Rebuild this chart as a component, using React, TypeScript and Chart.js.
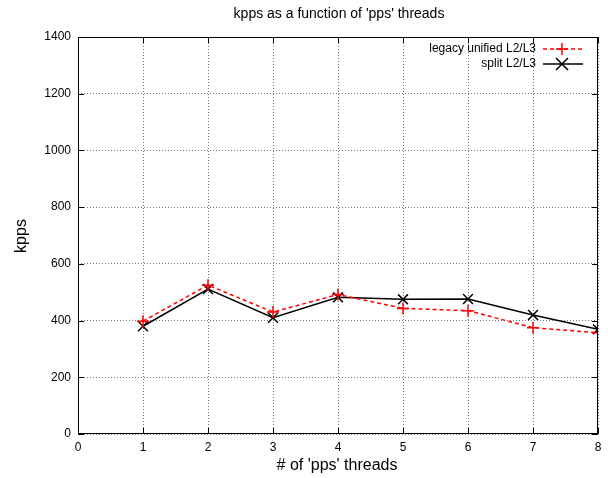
import React, { useEffect, useRef } from "react";
import { Chart, registerables } from "chart.js";

Chart.register(...registerables);

const threads = [1, 2, 3, 4, 5, 6, 7, 8];
const legacyUnified = [398, 525, 430, 492, 443, 435, 375, 357];
const splitL2L3 = [380, 511, 410, 482, 475, 476, 420, 369];
const seriesNames = ["legacy unified L2/L3", "split L2/L3"];
const titleText = "kpps as a function of 'pps' threads";
const xTitle = "# of 'pps' threads";
const yTitle = "kpps";

const FONT = "'Liberation Sans', Arial, Helvetica, sans-serif";

const decorPlugin = {
  id: "decor",
  afterDraw(chart: any) {
    const ctx = chart.ctx;
    const a = chart.chartArea;
    ctx.save();
    ctx.strokeStyle = "#000";
    ctx.lineWidth = 1;
    ctx.strokeRect(a.left + 0.5, a.top + 0.5, a.right - a.left - 1, a.bottom - a.top - 1);
    const xs = chart.scales.x;
    const ys = chart.scales.y;
    ctx.beginPath();
    for (const t of xs.ticks) {
      const px = Math.round(xs.getPixelForValue(t.value)) + 0.5;
      ctx.moveTo(px, a.bottom);
      ctx.lineTo(px, a.bottom - 6);
      ctx.moveTo(px, a.top);
      ctx.lineTo(px, a.top + 6);
    }
    for (const t of ys.ticks) {
      const py = Math.round(ys.getPixelForValue(t.value)) + 0.5;
      ctx.moveTo(a.left, py);
      ctx.lineTo(a.left + 6, py);
      ctx.moveTo(a.right, py);
      ctx.lineTo(a.right - 6, py);
    }
    ctx.stroke();
    ctx.fillStyle = "#000";
    ctx.font = `14px ${FONT}`;
    ctx.textAlign = "center";
    ctx.textBaseline = "middle";
    ctx.fillText(titleText, (a.left + a.right) / 2 + 1, 14);
    ctx.font = `16px ${FONT}`;
    ctx.fillText(xTitle, (a.left + a.right) / 2 - 1, 466);
    ctx.save();
    ctx.translate(22, 236);
    ctx.rotate(-Math.PI / 2);
    ctx.fillText(yTitle, 0, 0);
    ctx.restore();
    ctx.font = `12px ${FONT}`;
    ctx.textAlign = "right";
    const rows = [
      { y: 49, color: "#ff0000", dash: [4, 3], name: seriesNames[0], mark: "plus" },
      { y: 64, color: "#000000", dash: [], name: seriesNames[1], mark: "x" },
    ];
    for (const r of rows) {
      ctx.fillStyle = "#000";
      ctx.fillText(r.name, 536, r.y);
      ctx.strokeStyle = r.color;
      ctx.lineWidth = 1.5;
      ctx.setLineDash(r.dash);
      ctx.beginPath();
      ctx.moveTo(543, r.y);
      ctx.lineTo(583, r.y);
      ctx.stroke();
      ctx.setLineDash([]);
      ctx.beginPath();
      if (r.mark === "plus") {
        ctx.moveTo(556, r.y);
        ctx.lineTo(568, r.y);
        ctx.moveTo(562, r.y - 6);
        ctx.lineTo(562, r.y + 6);
      } else {
        ctx.moveTo(556, r.y - 6);
        ctx.lineTo(568, r.y + 6);
        ctx.moveTo(556, r.y + 6);
        ctx.lineTo(568, r.y - 6);
      }
      ctx.stroke();
    }
    ctx.restore();
  },
};

export default function App() {
  const ref = useRef<HTMLCanvasElement | null>(null);
  useEffect(() => {
    document.body.style.margin = "0";
    const canvas = ref.current!;
    const chart = new Chart(canvas, {
      type: "line",
      data: {
        datasets: [
          {
            label: seriesNames[0],
            data: threads.map((t, i) => ({ x: t, y: legacyUnified[i] })),
            borderColor: "#ff0000",
            backgroundColor: "#ff0000",
            borderWidth: 1.5,
            borderDash: [4, 3],
            pointStyle: "cross",
            pointRadius: 6,
            pointBorderWidth: 1.5,
            pointBorderColor: "#ff0000",
            tension: 0,
          },
          {
            label: seriesNames[1],
            data: threads.map((t, i) => ({ x: t, y: splitL2L3[i] })),
            borderColor: "#000000",
            backgroundColor: "#000000",
            borderWidth: 1.5,
            pointStyle: "crossRot",
            pointRadius: 7,
            pointBorderWidth: 1.5,
            pointBorderColor: "#000000",
            tension: 0,
          },
        ],
      },
      options: {
        responsive: false,
        animation: false,
        layout: { padding: { top: 37, right: 10, left: 0, bottom: 0 } },
        plugins: {
          legend: { display: false },
          title: { display: false },
          tooltip: { enabled: false },
        },
        scales: {
          x: {
            type: "linear",
            min: 0,
            max: 8,
            ticks: {
              stepSize: 1,
              color: "#000",
              font: { family: FONT, size: 12 },
              padding: 6,
              maxRotation: 0,
              callback: (v: any) => String(v),
            },
            grid: { color: "#777", lineWidth: 1, drawTicks: false },
            border: { display: false, dash: [1, 2] },
            afterFit(scale: any) {
              scale.height = 44;
            },
          },
          y: {
            min: 0,
            max: 1400,
            ticks: {
              stepSize: 200,
              color: "#000",
              font: { family: FONT, size: 12 },
              padding: 7,
              callback: (v: any) => String(v),
            },
            grid: { color: "#777", lineWidth: 1, drawTicks: false },
            border: { display: false, dash: [1, 2] },
            afterFit(scale: any) {
              scale.width = 78;
            },
          },
        },
      } as any,
      plugins: [decorPlugin],
    });
    return () => chart.destroy();
  }, []);
  return <canvas ref={ref} width={608} height={478} style={{ display: "block" }} />;
}
